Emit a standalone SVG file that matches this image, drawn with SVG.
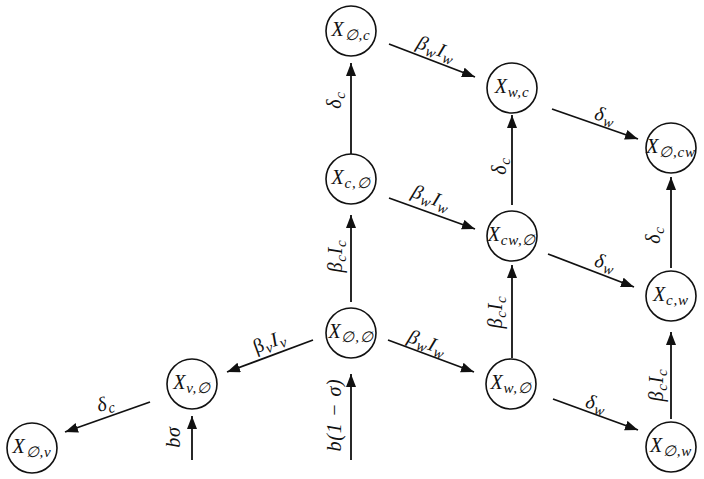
<svg xmlns="http://www.w3.org/2000/svg" width="704" height="479" viewBox="0 0 704 479">
<style>
  .node circle { fill: #fff; stroke: #111; stroke-width: 1.6; }
  text { font-family: "Liberation Serif", "DejaVu Serif", serif; font-style: italic; fill: #111; }
  .nl { font-size: 20px; text-anchor: middle; letter-spacing: 0.8px; }
  .el { font-size: 20px; text-anchor: middle; letter-spacing: 0.8px; }
  .s { font-size: 15px; letter-spacing: 0.8px; }
  .up { font-style: normal; }
  .edges line { stroke: #111; stroke-width: 1.8; marker-end: url(#ah); }
</style>
<defs>
  <marker id="ah" markerUnits="userSpaceOnUse" markerWidth="14" markerHeight="12" refX="13" refY="5" orient="auto">
    <path d="M0,0 L13,5 L0,10 Z" fill="#111"/>
  </marker>
</defs>
<rect width="704" height="479" fill="#fff"/>

<g class="edges">
  <line x1="351" y1="154" x2="351" y2="63"/>
  <line x1="389" y1="44" x2="475" y2="77"/>
  <line x1="552" y1="109" x2="638" y2="139"/>
  <line x1="512" y1="205" x2="512" y2="115"/>
  <line x1="389" y1="198" x2="475" y2="229"/>
  <line x1="548" y1="254" x2="634" y2="287"/>
  <line x1="671" y1="268" x2="671" y2="177"/>
  <line x1="351" y1="302" x2="351" y2="215"/>
  <line x1="388" y1="340" x2="474" y2="372"/>
  <line x1="512" y1="358" x2="512" y2="265"/>
  <line x1="553" y1="399" x2="638" y2="430"/>
  <line x1="671" y1="419" x2="671" y2="332"/>
  <line x1="313" y1="340" x2="227" y2="372"/>
  <line x1="150" y1="402" x2="65" y2="432"/>
  <line x1="351" y1="460" x2="351" y2="374"/>
  <line x1="192" y1="460" x2="192" y2="416"/>

  <text class="el" transform="translate(336,100) rotate(-90)" y="5">δ<tspan class="s" dy="4">c</tspan></text>
  <text class="el" transform="translate(436,50) rotate(21)" y="5">β<tspan class="s" dy="4">w</tspan><tspan dy="-4">I</tspan><tspan class="s" dy="4">w</tspan></text>
  <text class="el" transform="translate(605,117) rotate(15)" y="5">δ<tspan class="s" dy="4">w</tspan></text>
  <text class="el" transform="translate(501,166) rotate(-90)" y="5">δ<tspan class="s" dy="4">c</tspan></text>
  <text class="el" transform="translate(431,199) rotate(21)" y="5">β<tspan class="s" dy="4">w</tspan><tspan dy="-4">I</tspan><tspan class="s" dy="4">w</tspan></text>
  <text class="el" transform="translate(605,264) rotate(15)" y="5">δ<tspan class="s" dy="4">w</tspan></text>
  <text class="el" transform="translate(655,235) rotate(-90)" y="5">δ<tspan class="s" dy="4">c</tspan></text>
  <text class="el" transform="translate(337,256) rotate(-90)" y="5">β<tspan class="s" dy="4">c</tspan><tspan dy="-4">I</tspan><tspan class="s" dy="4">c</tspan></text>
  <text class="el" transform="translate(427,344) rotate(21)" y="5">β<tspan class="s" dy="4">w</tspan><tspan dy="-4">I</tspan><tspan class="s" dy="4">w</tspan></text>
  <text class="el" transform="translate(497,312) rotate(-90)" y="5">β<tspan class="s" dy="4">c</tspan><tspan dy="-4">I</tspan><tspan class="s" dy="4">c</tspan></text>
  <text class="el" transform="translate(596,405) rotate(15)" y="5">δ<tspan class="s" dy="4">w</tspan></text>
  <text class="el" transform="translate(658,385) rotate(-90)" y="5">β<tspan class="s" dy="4">c</tspan><tspan dy="-4">I</tspan><tspan class="s" dy="4">c</tspan></text>
  <text class="el" transform="translate(270,343) rotate(-20)" y="5"><tspan class="up">β</tspan><tspan class="s" dy="4">v</tspan><tspan dy="-4">I</tspan><tspan class="s" dy="4">v</tspan></text>
  <text class="el" transform="translate(106,405) rotate(-15)" y="5">δ<tspan class="s" dy="4">c</tspan></text>
  <text class="el" transform="translate(336,415) rotate(-90)" y="5">b(1 − σ)</text>
  <text class="el" transform="translate(175,437) rotate(-90)" y="5">bσ</text>
</g>

<g id="n-0-c" class="node"><circle cx="351" cy="31" r="25"/><text class="nl" x="351" y="36">X<tspan class="s" dy="4">∅,c</tspan></text></g>
<g id="n-w-c" class="node"><circle cx="512" cy="88" r="25"/><text class="nl" x="512" y="93">X<tspan class="s" dy="4">w,c</tspan></text></g>
<g id="n-0-cw" class="node"><circle cx="671" cy="148" r="25"/><text class="nl" x="671" y="153">X<tspan class="s" dy="4">∅,cw</tspan></text></g>
<g id="n-c-0" class="node"><circle cx="351" cy="179" r="25"/><text class="nl" x="351" y="184">X<tspan class="s" dy="4">c,∅</tspan></text></g>
<g id="n-cw-0" class="node"><circle cx="512" cy="236" r="25"/><text class="nl" x="512" y="241">X<tspan class="s" dy="4">cw,∅</tspan></text></g>
<g id="n-c-w" class="node"><circle cx="671" cy="296" r="25"/><text class="nl" x="671" y="301">X<tspan class="s" dy="4">c,w</tspan></text></g>
<g id="n-0-0" class="node"><circle cx="351" cy="333" r="25"/><text class="nl" x="351" y="338">X<tspan class="s" dy="4">∅,∅</tspan></text></g>
<g id="n-w-0" class="node"><circle cx="511" cy="384" r="25"/><text class="nl" x="511" y="389">X<tspan class="s" dy="4">w,∅</tspan></text></g>
<g id="n-0-w" class="node"><circle cx="671" cy="447" r="25"/><text class="nl" x="671" y="452">X<tspan class="s" dy="4">∅,w</tspan></text></g>
<g id="n-v-0" class="node"><circle cx="192" cy="384" r="25"/><text class="nl" x="192" y="389">X<tspan class="s" dy="4">v,∅</tspan></text></g>
<g id="n-0-v" class="node"><circle cx="32" cy="448" r="25"/><text class="nl" x="32" y="453">X<tspan class="s" dy="4">∅,v</tspan></text></g>
</svg>
